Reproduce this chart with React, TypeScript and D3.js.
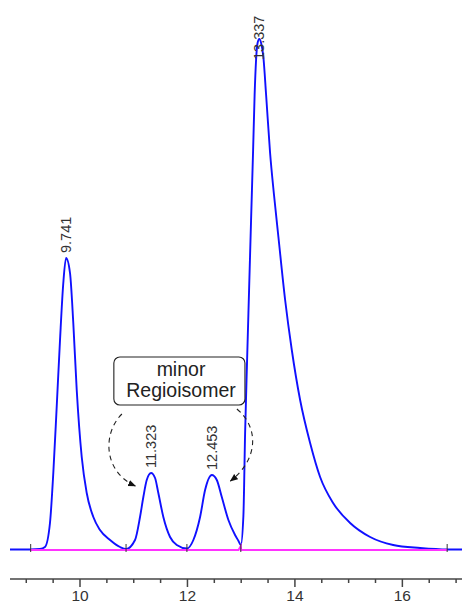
import React, { useEffect } from 'react';
import * as d3 from 'd3';

// retention time (min) and detector signal
const retentionTimes = [
  8.697, 9.082, 9.255, 9.348, 9.441, 9.503, 9.566, 9.628, 9.689, 9.741, 9.814, 9.875, 9.939,
  10.032, 10.125, 10.248, 10.372, 10.559, 10.745, 10.857, 11.024, 11.117, 11.179, 11.242, 11.323,
  11.397, 11.458, 11.551, 11.676, 11.801, 11.99, 12.11, 12.235, 12.328, 12.453, 12.546, 12.639,
  12.762, 12.886, 12.95, 12.993, 13.041, 13.073, 13.11, 13.147, 13.184, 13.222, 13.25, 13.277, 13.305,
  13.337, 13.371, 13.413, 13.464, 13.538, 13.613, 13.693, 13.818, 13.942, 14.097, 14.283, 14.469,
  14.711, 15.028, 15.4, 15.829, 16.331, 16.834, 17.11,
];
const signal = [
  0.5, 0.5, 1, 3, 27, 77, 143, 210, 267, 292, 277, 227, 160,
  93, 57, 33, 20, 10, 3, 1, 10, 33, 53, 70, 77,
  72, 57, 33, 13, 5, 1.5, 10, 33, 60, 75, 70, 53,
  30, 15, 9, 5, 34, 117, 190, 260, 330, 400, 455, 490, 507,
  511, 507, 493, 455, 397, 354, 313, 250, 200, 150, 107, 73,
  47, 27, 13, 5, 2, 0.5, 0.5,
];

// integration baseline
const baselineTimes = [9.082, 10.857, 11.99, 12.95, 12.993, 13.0, 16.834];
const baselineValues = [0, 0, 0, 0, 4, 0, 0];
const integrationMarks = [9.082, 10.857, 11.99, 12.993, 16.834];

const peakTimes = [9.741, 11.323, 12.453, 13.337];
const peakHeights = [292, 77, 75, 511];
const peakLabels = ['9.741', '11.323', '12.453', '13.337'];

const axisLabels = [10, 12, 14, 16];
const noteLines = ['minor', 'Regioisomer'];

const W = 462;
const H = 603;

const App: React.FC = () => {
  useEffect(() => {
    document.body.style.margin = '0';
  }, []);

  const x = d3.scaleLinear().domain([8.697, 17.11]).range([10, 462]);
  const y = d3.scaleLinear().domain([0, 520]).range([550, 30]);
  const axisY = 579;

  const trace = d3
    .line<[number, number]>()
    .x((d) => x(d[0]))
    .y((d) => y(d[1]))
    .curve(d3.curveMonotoneX)(d3.zip(retentionTimes, signal) as [number, number][]);

  const baseline = d3
    .line<[number, number]>()
    .x((d) => x(d[0]))
    .y((d) => y(d[1]))(d3.zip(baselineTimes, baselineValues) as [number, number][]);

  const ticks = d3.range(9, 17.01, 0.5);

  // annotation box (data coords)
  const bx0 = x(10.63);
  const bx1 = x(13.07);
  const by0 = y(193);
  const by1 = y(145);
  const tx = x(11.88);

  // dashed arrows
  const l0 = [x(10.78), y(136)];
  const l1 = [x(11.03), y(64)];
  const r0 = [x(12.92), y(141)];
  const r1 = [x(12.8), y(69)];
  const leftArc = `M${l0[0]},${l0[1]} C${l0[0] - 20},${l0[1] + 20} ${l0[0] - 18},${l1[1] - 14} ${l1[0]},${l1[1]}`;
  const rightArc = `M${r0[0]},${r0[1]} C${r0[0] + 22},${r0[1] + 18} ${r0[0] + 22},${r1[1] - 22} ${r1[0]},${r1[1]}`;

  return (
    <svg
      width={W}
      height={H}
      style={{ display: 'block', background: '#fff' }}
      fontFamily="'Liberation Sans', Arial, sans-serif"
    >
      <defs>
        <marker id="ah" viewBox="0 0 10 10" refX="9" refY="5" markerWidth="8" markerHeight="8" orient="auto" markerUnits="userSpaceOnUse">
          <path d="M0,1 L10,5 L0,9 Z" fill="#111" />
        </marker>
      </defs>

      {/* chromatogram */}
      <path d={trace || ''} fill="none" stroke="#1010ff" strokeWidth={1.9} />
      <path d={baseline || ''} fill="none" stroke="#ff33ff" strokeWidth={2} />
      {integrationMarks.map((t) => (
        <line key={t} x1={x(t)} x2={x(t)} y1={y(-2)} y2={y(6)} stroke="#333" strokeWidth={1} />
      ))}

      {/* peak labels */}
      {peakTimes.map((t, i) => {
        const px = x(t);
        const py = Math.max(y(peakHeights[i]) - 5, 60);
        return (
          <text
            key={t}
            transform={`translate(${px},${py}) rotate(-90)`}
            dy="0.35em"
            fontSize={14.5}
            fill="#333"
          >
            {peakLabels[i]}
          </text>
        );
      })}

      {/* annotation */}
      <rect x={bx0} y={by0} width={bx1 - bx0} height={by1 - by0} rx={6} fill="#fff" stroke="#222" strokeWidth={1.1} />
      {noteLines.map((s, i) => (
        <text key={s} x={tx} y={by0 + 19 + i * 21} textAnchor="middle" fontSize={19.5} fill="#222">
          {s}
        </text>
      ))}
      <path d={leftArc} fill="none" stroke="#222" strokeWidth={1.1} strokeDasharray="5,4" markerEnd="url(#ah)" />
      <path d={rightArc} fill="none" stroke="#222" strokeWidth={1.1} strokeDasharray="5,4" markerEnd="url(#ah)" />

      {/* x axis */}
      <line x1={10} x2={W} y1={axisY} y2={axisY} stroke="#444" strokeWidth={1.5} />
      {ticks.map((t) => {
        const major = axisLabels.includes(t);
        return (
          <line key={t} x1={x(t)} x2={x(t)} y1={axisY} y2={axisY + (major ? 8 : 4)} stroke="#444" strokeWidth={1.5} />
        );
      })}
      {axisLabels.map((t) => (
        <text key={t} x={x(t)} y={601} textAnchor="middle" fontSize={15.5} fill="#333">
          {t}
        </text>
      ))}
    </svg>
  );
};

export default App;
